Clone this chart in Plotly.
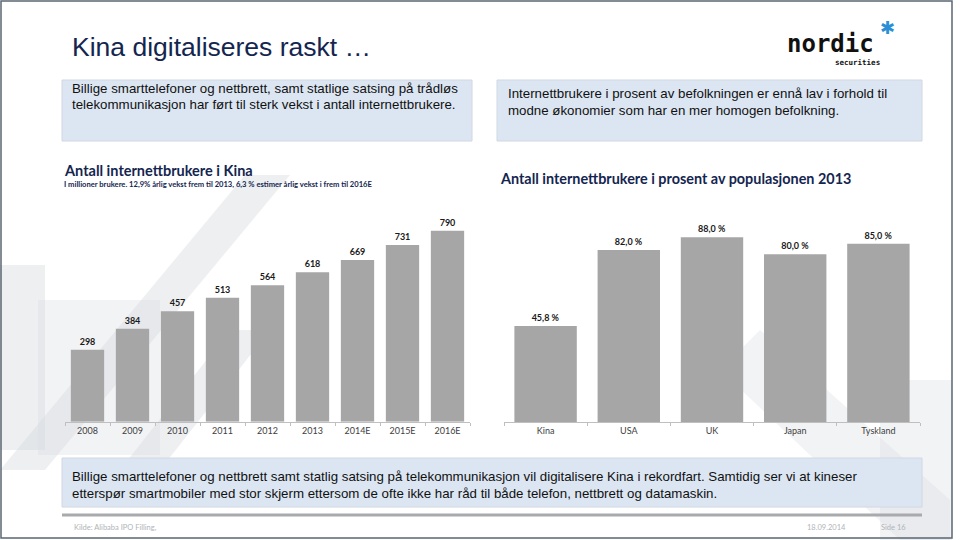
"""Kina digitaliseres raskt - slide with two bar charts"""

from plotly import graph_objects as go

W, H = 960, 540

# data
years = ["2008", "2009", "2010", "2011", "2012", "2013", "2014E", "2015E", "2016E"]
users_mill = [298, 384, 457, 513, 564, 618, 669, 731, 790]

countries = ["Kina", "USA", "UK", "Japan", "Tyskland"]
share_pct = [45.8, 82.0, 88.0, 80.0, 85.0]

title = "Kina digitaliseres raskt …"
box_left = [
    "Billige smarttelefoner og nettbrett, samt statlige satsing på trådløs",
    "telekommunikasjon har ført til sterk vekst i antall internettbrukere.",
]
box_right = [
    "Internettbrukere i prosent av befolkningen er ennå lav i forhold til",
    "modne økonomier som har en mer homogen befolkning.",
]
box_bottom = [
    "Billige smarttelefoner og nettbrett samt statlig satsing på telekommunikasjon vil digitalisere Kina i rekordfart. Samtidig ser vi at kineser",
    "etterspør smartmobiler med stor skjerm ettersom de ofte ikke har råd til både telefon, nettbrett og datamaskin.",
]
chart1_title = "Antall internettbrukere i Kina"
chart1_sub = "I millioner brukere. 12,9% årlig vekst frem til 2013, 6,3 % estimer årlig vekst i frem til 2016E"
chart2_title = "Antall internettbrukere i prosent av populasjonen 2013"

NAVY = "#14254F"
BAR = "#A6A6A6"
BOX = "#DCE6F2"
BODY_FONT = "Liberation Sans"
CHART_FONT = "Lato"


def px(x):
    return x / W


def py(y):
    return 1 - y / H


fig = go.Figure()

fig.add_trace(
    go.Bar(
        x=years,
        y=users_mill,
        marker=dict(color=BAR, line=dict(width=0)),
        text=[str(v) for v in users_mill],
        textposition="outside",
        textfont=dict(family=CHART_FONT, size=9, color="#1a1a1a", weight="bold"),
        cliponaxis=False,
        xaxis="x",
        yaxis="y",
        width=0.74,
    )
)
fig.add_trace(
    go.Bar(
        x=countries,
        y=share_pct,
        marker=dict(color=BAR, line=dict(width=0)),
        text=[f"{v:.1f}".replace(".", ",") + " %" for v in share_pct],
        textposition="outside",
        textfont=dict(family=CHART_FONT, size=9, color="#1a1a1a", weight="bold"),
        cliponaxis=False,
        xaxis="x2",
        yaxis="y2",
        width=0.75,
    )
)

xaxis_style = dict(
    showline=True,
    linecolor="#BFBFBF",
    linewidth=1,
    ticks="outside",
    tickson="boundaries",
    ticklen=3,
    tickcolor="#BFBFBF",
    showgrid=False,
    zeroline=False,
    tickfont=dict(family=CHART_FONT, size=9, color="#404040"),
    fixedrange=True,
)
yaxis_style = dict(visible=False, showgrid=False, zeroline=False, fixedrange=True)

fig.update_layout(
    width=W,
    height=H,
    margin=dict(l=0, r=0, t=0, b=0),
    paper_bgcolor="white",
    plot_bgcolor="rgba(0,0,0,0)",
    showlegend=False,
    xaxis=dict(domain=[px(65), px(470)], anchor="y", **xaxis_style),
    yaxis=dict(domain=[py(421.7), py(210)], range=[0, 875.5], anchor="x", **yaxis_style),
    xaxis2=dict(domain=[px(504), px(920)], anchor="y2", **xaxis_style),
    yaxis2=dict(domain=[py(422.3), py(210)], range=[0, 101], anchor="x2", **yaxis_style),
)

# shapes in pixel coords, converted to paper below
wm = "rgba(215,219,224,0.45)"
wm2 = "rgba(215,219,224,0.32)"
shapes = [
    # faint background watermark
    dict(type="path", path=[(0, 470), (245, 175), (290, 175), (45, 470)], fillcolor=wm, line=dict(width=0), layer="below"),
    dict(type="rect", x0=0, y0=265, x1=45, y1=450, fillcolor=wm, line=dict(width=0), layer="below"),
    dict(type="rect", x0=38, y0=300, x1=160, y1=455, fillcolor=wm2, line=dict(width=0), layer="below"),
    dict(type="path", path=[(120, 470), (230, 330), (270, 330), (160, 470)], fillcolor=wm, line=dict(width=0), layer="below"),
    dict(type="path", path=[(760, 330), (950, 500), (950, 540), (900, 540), (720, 370)], fillcolor=wm2, line=dict(width=0), layer="below"),
    dict(type="rect", x0=880, y0=380, x1=952, y1=540, fillcolor=wm2, line=dict(width=0), layer="below"),
]
# text boxes
for x0, y0, x1, y1 in [(62, 80, 472, 141), (497, 80, 922, 141), (62, 458, 922, 507)]:
    shapes.append(
        dict(type="rect", x0=x0, y0=y0, x1=x1, y1=y1, fillcolor=BOX,
             line=dict(color="#D0D8E2", width=1), layer="below")
    )
# footer rule
shapes.append(dict(type="line", x0=62, y0=515, x1=922, y1=515, line=dict(color="#A8AAAD", width=3)))
# slide border
shapes.append(dict(type="rect", x0=1, y0=1, x1=952, y1=538,
                   line=dict(color="#5B6672", width=1.5), fillcolor="rgba(0,0,0,0)"))

for s in shapes:
    s.update(xref="paper", yref="paper")
    if s["type"] == "path":
        pts = [f"{px(x)} {py(y)}" for x, y in s["path"]]
        s["path"] = "M " + " L ".join(pts) + " Z"
    else:
        s["x0"], s["x1"] = px(s["x0"]), px(s["x1"])
        s["y0"], s["y1"] = py(s["y0"]), py(s["y1"])
fig.update_layout(shapes=shapes)


def note(x, y, text, size, color="black", family=BODY_FONT, weight="normal", xanchor="left"):
    fig.add_annotation(
        x=px(x), y=py(y), xref="paper", yref="paper", text=text, showarrow=False,
        xanchor=xanchor, yanchor="middle", align="left",
        font=dict(family=family, size=size, color=color, weight=weight),
    )


note(70, 47, title, 26.5, color=NAVY)
for i, line in enumerate(box_left):
    note(70, 88 + i * 16.5, line, 13.3, color="#111111")
for i, line in enumerate(box_right):
    note(506, 93 + i * 17, line, 13.3, color="#111111")
for i, line in enumerate(box_bottom):
    note(70, 476 + i * 17, line, 13.3, color="#111111")

note(62, 170, chart1_title, 14.5, color=NAVY, family=CHART_FONT, weight="bold")
note(62, 184, chart1_sub, 7.6, color=NAVY, family=CHART_FONT, weight="bold")
note(498, 178, chart2_title, 14.4, color=NAVY, family=CHART_FONT, weight="bold")

# footer
note(72, 527, "Kilde: Alibaba IPO Filling,", 7.5, color="#B0B4B8", family=CHART_FONT)
note(826, 527, "18.09.2014", 7.5, color="#B0B4B8", family=CHART_FONT, xanchor="center")
note(893, 527, "Side 16", 7.5, color="#B0B4B8", family=CHART_FONT, xanchor="center")

# logo
note(830, 44, "nordic", 24, color="#111111", family="DejaVu Sans Mono", weight="bold", xanchor="center")
note(857, 62, "securities", 7.5, color="#111111", family="DejaVu Sans Mono", weight="bold", xanchor="center")
note(887, 28, "✱", 18, color="#2A8FD4", family="DejaVu Sans", xanchor="center")

fig.write_html(
    "out.html",
    config={"displayModeBar": False},
    post_script="document.body.style.margin='0';",
)
